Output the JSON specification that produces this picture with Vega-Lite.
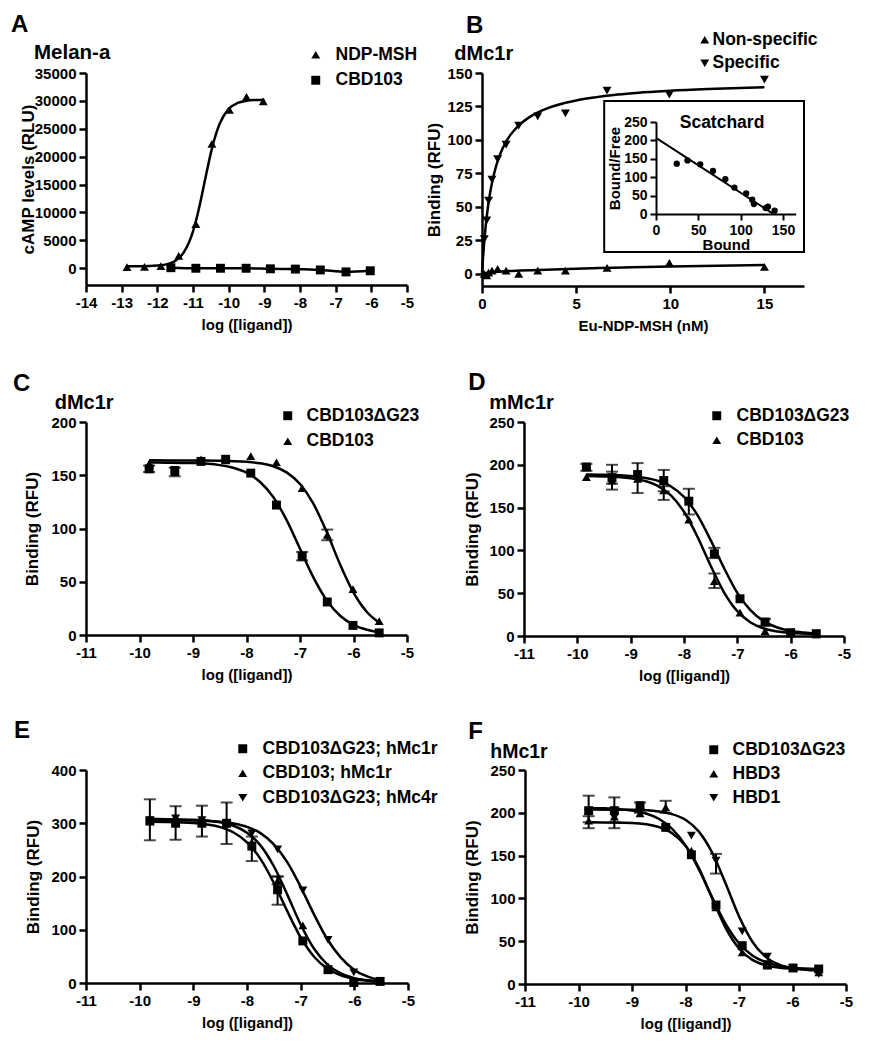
{
"$schema": "https://vega.github.io/schema/vega-lite/v6.json",
"padding": {"left": 10, "top": 12, "right": 2, "bottom": 2},
"background": "white",
"config": {
 "font": "Liberation Sans",
 "view": {"stroke": null},
 "axis": {"domainColor": "black", "domainWidth": 2.5, "tickColor": "black", "tickWidth": 2.5, "tickSize": 7, "labelFont": "Liberation Sans", "labelFontWeight": "bold", "labelFontSize": 15, "labelColor": "black", "labelPadding": 3, "titleFont": "Liberation Sans", "titleFontWeight": "bold", "titleFontSize": 17, "titleColor": "black", "grid": false, "labelFlush": false, "labelOverlap": false, "labelSeparation": 0, "labelExpr": "'' + datum.value"},
 "axisX": {"titleFontSize": 15, "titlePadding": 7},
 "legend": {"labelFont": "Liberation Sans", "labelFontWeight": "bold", "labelFontSize": 17.5, "labelColor": "black", "labelLimit": 400, "symbolFillColor": "black", "symbolStrokeColor": "black", "symbolSize": 80, "padding": 0}
},
"datasets": {
 "A_pts": [
  {"series": "NDP-MSH", "x": -12.85, "y": 200}, {"series": "NDP-MSH", "x": -12.36, "y": 250}, {"series": "NDP-MSH", "x": -11.9, "y": 400}, {"series": "NDP-MSH", "x": -11.4, "y": 2200}, {"series": "NDP-MSH", "x": -10.92, "y": 7900}, {"series": "NDP-MSH", "x": -10.47, "y": 22300}, {"series": "NDP-MSH", "x": -9.98, "y": 28400}, {"series": "NDP-MSH", "x": -9.5, "y": 30700}, {"series": "NDP-MSH", "x": -9.03, "y": 29900},
  {"series": "CBD103", "x": -11.62, "y": 100}, {"series": "CBD103", "x": -10.92, "y": 0}, {"series": "CBD103", "x": -10.23, "y": 0}, {"series": "CBD103", "x": -9.51, "y": 0}, {"series": "CBD103", "x": -8.83, "y": -100}, {"series": "CBD103", "x": -8.13, "y": -150}, {"series": "CBD103", "x": -7.43, "y": -300}, {"series": "CBD103", "x": -6.71, "y": -650}, {"series": "CBD103", "x": -6.03, "y": -450}
 ],
 "A_curve": [
  {"series": "NDP-MSH", "x": -12.85, "y": 354}, {"series": "NDP-MSH", "x": -12.5, "y": 366}, {"series": "NDP-MSH", "x": -12.0, "y": 475}, {"series": "NDP-MSH", "x": -11.75, "y": 700}, {"series": "NDP-MSH", "x": -11.5, "y": 1317}, {"series": "NDP-MSH", "x": -11.25, "y": 2923}, {"series": "NDP-MSH", "x": -11.0, "y": 6619}, {"series": "NDP-MSH", "x": -10.9, "y": 8917}, {"series": "NDP-MSH", "x": -10.8, "y": 11659}, {"series": "NDP-MSH", "x": -10.7, "y": 14684}, {"series": "NDP-MSH", "x": -10.6, "y": 17754}, {"series": "NDP-MSH", "x": -10.5, "y": 20635}, {"series": "NDP-MSH", "x": -10.4, "y": 23122}, {"series": "NDP-MSH", "x": -10.25, "y": 25949}, {"series": "NDP-MSH", "x": -10.0, "y": 28566}, {"series": "NDP-MSH", "x": -9.75, "y": 29629}, {"series": "NDP-MSH", "x": -9.5, "y": 30027}, {"series": "NDP-MSH", "x": -9.25, "y": 30170}, {"series": "NDP-MSH", "x": -9.0, "y": 30222},
  {"series": "CBD103", "x": -11.62, "y": 100}, {"series": "CBD103", "x": -10.92, "y": 0}, {"series": "CBD103", "x": -10.23, "y": 0}, {"series": "CBD103", "x": -9.51, "y": 0}, {"series": "CBD103", "x": -8.83, "y": -100}, {"series": "CBD103", "x": -8.13, "y": -150}, {"series": "CBD103", "x": -7.43, "y": -300}, {"series": "CBD103", "x": -6.71, "y": -650}, {"series": "CBD103", "x": -6.03, "y": -450}
 ],
 "B_pts": [
  {"series": "Specific", "x": 0.12, "y": 26}, {"series": "Specific", "x": 0.25, "y": 40}, {"series": "Specific", "x": 0.35, "y": 54.7}, {"series": "Specific", "x": 0.53, "y": 70.4}, {"series": "Specific", "x": 0.83, "y": 85.8}, {"series": "Specific", "x": 1.28, "y": 96.5}, {"series": "Specific", "x": 1.95, "y": 110.7}, {"series": "Specific", "x": 2.96, "y": 117.7}, {"series": "Specific", "x": 4.43, "y": 119.8}, {"series": "Specific", "x": 6.64, "y": 136.8}, {"series": "Specific", "x": 9.95, "y": 133.8}, {"series": "Specific", "x": 15, "y": 145},
  {"series": "Non-specific", "x": 0.12, "y": 0}, {"series": "Non-specific", "x": 0.25, "y": -1}, {"series": "Non-specific", "x": 0.35, "y": 1}, {"series": "Non-specific", "x": 0.53, "y": 2.5}, {"series": "Non-specific", "x": 0.83, "y": 3.7}, {"series": "Non-specific", "x": 1.28, "y": 2.5}, {"series": "Non-specific", "x": 1.95, "y": 0}, {"series": "Non-specific", "x": 2.96, "y": 2.5}, {"series": "Non-specific", "x": 4.43, "y": 2.5}, {"series": "Non-specific", "x": 6.64, "y": 4.5}, {"series": "Non-specific", "x": 9.95, "y": 8.2}, {"series": "Non-specific", "x": 15, "y": 5.2}
 ],
 "B_curve": [
  {"series": "Specific", "x": 0, "y": 0}, {"series": "Specific", "x": 0.05, "y": 11.2}, {"series": "Specific", "x": 0.1, "y": 20.7}, {"series": "Specific", "x": 0.2, "y": 36.3}, {"series": "Specific", "x": 0.3, "y": 48.3}, {"series": "Specific", "x": 0.4, "y": 58}, {"series": "Specific", "x": 0.5, "y": 65.9}, {"series": "Specific", "x": 0.75, "y": 80.6}, {"series": "Specific", "x": 1, "y": 90.6}, {"series": "Specific", "x": 1.25, "y": 98}, {"series": "Specific", "x": 1.5, "y": 103.6}, {"series": "Specific", "x": 2, "y": 111.5}, {"series": "Specific", "x": 2.5, "y": 116.9}, {"series": "Specific", "x": 3, "y": 120.8}, {"series": "Specific", "x": 4, "y": 126.1}, {"series": "Specific", "x": 5, "y": 129.5}, {"series": "Specific", "x": 6, "y": 131.8}, {"series": "Specific", "x": 7, "y": 133.6}, {"series": "Specific", "x": 8, "y": 134.9}, {"series": "Specific", "x": 9, "y": 135.9}, {"series": "Specific", "x": 10, "y": 136.8}, {"series": "Specific", "x": 12, "y": 138.1}, {"series": "Specific", "x": 15, "y": 139.4},
  {"series": "Non-specific", "x": 0, "y": 0}, {"series": "Non-specific", "x": 0.5, "y": 1.2}, {"series": "Non-specific", "x": 1, "y": 1.8}, {"series": "Non-specific", "x": 2, "y": 2.5}, {"series": "Non-specific", "x": 3, "y": 3.0}, {"series": "Non-specific", "x": 5, "y": 3.9}, {"series": "Non-specific", "x": 7, "y": 4.6}, {"series": "Non-specific", "x": 10, "y": 5.6}, {"series": "Non-specific", "x": 15, "y": 6.6}
 ],
 "B_inset_pts": [
  {"bound": 24.5, "bf": 136.7}, {"bound": 37.2, "bf": 145.7}, {"bound": 52.2, "bf": 134.9}, {"bound": 67.3, "bf": 116.9}, {"bound": 81.9, "bf": 94.4}, {"bound": 92.6, "bf": 71.9}, {"bound": 106.5, "bf": 55.8}, {"bound": 113.6, "bf": 38.7}, {"bound": 115.6, "bf": 27}, {"bound": 129.4, "bf": 16.2}, {"bound": 132.2, "bf": 19.8}, {"bound": 140.1, "bf": 9}
 ],
 "B_inset_line": [{"bound": 0, "bf": 207}, {"bound": 138, "bf": 1}],
 "C_pts": [
  {"series": "CBD103ΔG23", "x": -9.82, "y": 156}, {"series": "CBD103ΔG23", "x": -9.34, "y": 154.5}, {"series": "CBD103ΔG23", "x": -8.85, "y": 163}, {"series": "CBD103ΔG23", "x": -8.39, "y": 165}, {"series": "CBD103ΔG23", "x": -7.92, "y": 152}, {"series": "CBD103ΔG23", "x": -7.44, "y": 122}, {"series": "CBD103ΔG23", "x": -6.96, "y": 74}, {"series": "CBD103ΔG23", "x": -6.49, "y": 31}, {"series": "CBD103ΔG23", "x": -6.01, "y": 9}, {"series": "CBD103ΔG23", "x": -5.52, "y": 2},
  {"series": "CBD103", "x": -9.82, "y": 161}, {"series": "CBD103", "x": -9.34, "y": 153}, {"series": "CBD103", "x": -8.85, "y": 165}, {"series": "CBD103", "x": -8.39, "y": 164}, {"series": "CBD103", "x": -7.92, "y": 168}, {"series": "CBD103", "x": -7.44, "y": 162}, {"series": "CBD103", "x": -6.96, "y": 138}, {"series": "CBD103", "x": -6.49, "y": 94}, {"series": "CBD103", "x": -6.01, "y": 43}, {"series": "CBD103", "x": -5.52, "y": 13}
 ],
 "C_err": [
  {"series": "CBD103ΔG23", "x": -9.82, "lo": 153, "hi": 159}, {"series": "CBD103", "x": -9.34, "lo": 149, "hi": 157}, {"series": "CBD103ΔG23", "x": -6.96, "lo": 70, "hi": 78}, {"series": "CBD103", "x": -6.49, "lo": 89, "hi": 99}
 ],
 "C_curve": [
  {"series": "CBD103ΔG23", "x": -9.82, "y": 161.9}, {"series": "CBD103ΔG23", "x": -9.5, "y": 161.8}, {"series": "CBD103ΔG23", "x": -9, "y": 161.4}, {"series": "CBD103ΔG23", "x": -8.5, "y": 159.5}, {"series": "CBD103ΔG23", "x": -8.25, "y": 157.0}, {"series": "CBD103ΔG23", "x": -8, "y": 152.4}, {"series": "CBD103ΔG23", "x": -7.75, "y": 143.9}, {"series": "CBD103ΔG23", "x": -7.5, "y": 129.5}, {"series": "CBD103ΔG23", "x": -7.25, "y": 107.9}, {"series": "CBD103ΔG23", "x": -7, "y": 81}, {"series": "CBD103ΔG23", "x": -6.75, "y": 54.1}, {"series": "CBD103ΔG23", "x": -6.5, "y": 32.5}, {"series": "CBD103ΔG23", "x": -6.25, "y": 18.1}, {"series": "CBD103ΔG23", "x": -6, "y": 9.6}, {"series": "CBD103ΔG23", "x": -5.75, "y": 5.0}, {"series": "CBD103ΔG23", "x": -5.52, "y": 2.7},
  {"series": "CBD103", "x": -9.82, "y": 164}, {"series": "CBD103", "x": -9, "y": 163.9}, {"series": "CBD103", "x": -8.5, "y": 163.7}, {"series": "CBD103", "x": -8, "y": 162.7}, {"series": "CBD103", "x": -7.75, "y": 161.3}, {"series": "CBD103", "x": -7.5, "y": 158.5}, {"series": "CBD103", "x": -7.25, "y": 152.7}, {"series": "CBD103", "x": -7, "y": 141.8}, {"series": "CBD103", "x": -6.75, "y": 123.3}, {"series": "CBD103", "x": -6.5, "y": 96.6}, {"series": "CBD103", "x": -6.25, "y": 66.2}, {"series": "CBD103", "x": -6, "y": 39.8}, {"series": "CBD103", "x": -5.75, "y": 21.6}, {"series": "CBD103", "x": -5.52, "y": 11.6}
 ],
 "D_pts": [
  {"series": "CBD103ΔG23", "x": -9.83, "y": 197.5}, {"series": "CBD103ΔG23", "x": -9.35, "y": 185}, {"series": "CBD103ΔG23", "x": -8.87, "y": 188.6}, {"series": "CBD103ΔG23", "x": -8.38, "y": 181.6}, {"series": "CBD103ΔG23", "x": -7.91, "y": 157.5}, {"series": "CBD103ΔG23", "x": -7.43, "y": 96}, {"series": "CBD103ΔG23", "x": -6.95, "y": 43.5}, {"series": "CBD103ΔG23", "x": -6.48, "y": 16.3}, {"series": "CBD103ΔG23", "x": -6.0, "y": 3.9}, {"series": "CBD103ΔG23", "x": -5.52, "y": 2.7},
  {"series": "CBD103", "x": -9.83, "y": 185.5}, {"series": "CBD103", "x": -9.35, "y": 181.6}, {"series": "CBD103", "x": -8.87, "y": 183.5}, {"series": "CBD103", "x": -8.38, "y": 170}, {"series": "CBD103", "x": -7.91, "y": 136}, {"series": "CBD103", "x": -7.43, "y": 64}, {"series": "CBD103", "x": -6.95, "y": 27.2}, {"series": "CBD103", "x": -6.48, "y": 5.8}, {"series": "CBD103", "x": -6.0, "y": 2.7}, {"series": "CBD103", "x": -5.52, "y": 2}
 ],
 "D_err": [
  {"series": "CBD103ΔG23", "x": -9.83, "lo": 193, "hi": 201}, {"series": "CBD103ΔG23", "x": -9.35, "lo": 178, "hi": 192}, {"series": "CBD103", "x": -9.35, "lo": 171, "hi": 200}, {"series": "CBD103ΔG23", "x": -8.87, "lo": 167, "hi": 202}, {"series": "CBD103ΔG23", "x": -8.38, "lo": 169, "hi": 194}, {"series": "CBD103", "x": -8.38, "lo": 159, "hi": 175}, {"series": "CBD103ΔG23", "x": -7.91, "lo": 142, "hi": 172}, {"series": "CBD103ΔG23", "x": -7.43, "lo": 91, "hi": 103}, {"series": "CBD103", "x": -7.43, "lo": 56, "hi": 73}, {"series": "CBD103ΔG23", "x": -6.48, "lo": 12, "hi": 20}
 ],
 "D_curve": [
  {"series": "CBD103ΔG23", "x": -9.83, "y": 188.8}, {"series": "CBD103ΔG23", "x": -9.5, "y": 188.5}, {"series": "CBD103ΔG23", "x": -9, "y": 186.9}, {"series": "CBD103ΔG23", "x": -8.5, "y": 181.5}, {"series": "CBD103ΔG23", "x": -8.25, "y": 175}, {"series": "CBD103ΔG23", "x": -8, "y": 162.5}, {"series": "CBD103ΔG23", "x": -7.75, "y": 141.5}, {"series": "CBD103ΔG23", "x": -7.5, "y": 112}, {"series": "CBD103ΔG23", "x": -7.25, "y": 79.5}, {"series": "CBD103ΔG23", "x": -7, "y": 50.4}, {"series": "CBD103ΔG23", "x": -6.75, "y": 29.9}, {"series": "CBD103ΔG23", "x": -6.5, "y": 17.1}, {"series": "CBD103ΔG23", "x": -6.25, "y": 9.9}, {"series": "CBD103ΔG23", "x": -6, "y": 6.0}, {"series": "CBD103ΔG23", "x": -5.75, "y": 4.1}, {"series": "CBD103ΔG23", "x": -5.52, "y": 3.1},
  {"series": "CBD103", "x": -9.83, "y": 186.8}, {"series": "CBD103", "x": -9.5, "y": 186.4}, {"series": "CBD103", "x": -9, "y": 184.3}, {"series": "CBD103", "x": -8.5, "y": 175.6}, {"series": "CBD103", "x": -8.25, "y": 164.5}, {"series": "CBD103", "x": -8, "y": 145.1}, {"series": "CBD103", "x": -7.75, "y": 116.3}, {"series": "CBD103", "x": -7.5, "y": 82.1}, {"series": "CBD103", "x": -7.25, "y": 51.1}, {"series": "CBD103", "x": -7, "y": 29.0}, {"series": "CBD103", "x": -6.75, "y": 15.8}, {"series": "CBD103", "x": -6.5, "y": 8.8}, {"series": "CBD103", "x": -6.25, "y": 5.3}, {"series": "CBD103", "x": -6, "y": 3.6}, {"series": "CBD103", "x": -5.52, "y": 2.4}
 ],
 "E_pts": [
  {"series": "CBD103ΔG23; hMc1r", "x": -9.81, "y": 304}, {"series": "CBD103ΔG23; hMc1r", "x": -9.33, "y": 300}, {"series": "CBD103ΔG23; hMc1r", "x": -8.84, "y": 300}, {"series": "CBD103ΔG23; hMc1r", "x": -8.38, "y": 300}, {"series": "CBD103ΔG23; hMc1r", "x": -7.91, "y": 257}, {"series": "CBD103ΔG23; hMc1r", "x": -7.43, "y": 175}, {"series": "CBD103ΔG23; hMc1r", "x": -6.96, "y": 79}, {"series": "CBD103ΔG23; hMc1r", "x": -6.49, "y": 25}, {"series": "CBD103ΔG23; hMc1r", "x": -6.01, "y": 1}, {"series": "CBD103ΔG23; hMc1r", "x": -5.52, "y": 3},
  {"series": "CBD103; hMc1r", "x": -9.81, "y": 307}, {"series": "CBD103; hMc1r", "x": -9.33, "y": 312}, {"series": "CBD103; hMc1r", "x": -8.84, "y": 303}, {"series": "CBD103; hMc1r", "x": -8.38, "y": 300}, {"series": "CBD103; hMc1r", "x": -7.91, "y": 264}, {"series": "CBD103; hMc1r", "x": -7.43, "y": 192}, {"series": "CBD103; hMc1r", "x": -6.96, "y": 108}, {"series": "CBD103; hMc1r", "x": -6.49, "y": 31}, {"series": "CBD103; hMc1r", "x": -6.01, "y": 1}, {"series": "CBD103; hMc1r", "x": -5.52, "y": 3},
  {"series": "CBD103ΔG23; hMc4r", "x": -9.81, "y": 306}, {"series": "CBD103ΔG23; hMc4r", "x": -9.33, "y": 309}, {"series": "CBD103ΔG23; hMc4r", "x": -8.84, "y": 306}, {"series": "CBD103ΔG23; hMc4r", "x": -8.38, "y": 300}, {"series": "CBD103ΔG23; hMc4r", "x": -7.91, "y": 281}, {"series": "CBD103ΔG23; hMc4r", "x": -7.43, "y": 251}, {"series": "CBD103ΔG23; hMc4r", "x": -6.96, "y": 174}, {"series": "CBD103ΔG23; hMc4r", "x": -6.49, "y": 81}, {"series": "CBD103ΔG23; hMc4r", "x": -6.01, "y": 20}, {"series": "CBD103ΔG23; hMc4r", "x": -5.52, "y": 3}
 ],
 "E_err": [
  {"series": "CBD103ΔG23; hMc1r", "x": -9.81, "lo": 268, "hi": 345}, {"series": "CBD103ΔG23; hMc1r", "x": -9.33, "lo": 269, "hi": 332}, {"series": "CBD103ΔG23; hMc1r", "x": -8.84, "lo": 275, "hi": 333}, {"series": "CBD103ΔG23; hMc1r", "x": -8.38, "lo": 261, "hi": 339}, {"series": "CBD103ΔG23; hMc1r", "x": -7.91, "lo": 229, "hi": 275}, {"series": "CBD103ΔG23; hMc1r", "x": -7.43, "lo": 147, "hi": 200}, {"series": "CBD103; hMc1r", "x": -7.43, "lo": 185, "hi": 200}
 ],
 "E_curve": [
  {"series": "CBD103ΔG23; hMc1r", "x": -9.81, "y": 302.7}, {"series": "CBD103ΔG23; hMc1r", "x": -9.5, "y": 302.4}, {"series": "CBD103ΔG23; hMc1r", "x": -9, "y": 300.5}, {"series": "CBD103ΔG23; hMc1r", "x": -8.5, "y": 292.7}, {"series": "CBD103ΔG23; hMc1r", "x": -8.25, "y": 282.6}, {"series": "CBD103ΔG23; hMc1r", "x": -8, "y": 264.2}, {"series": "CBD103ΔG23; hMc1r", "x": -7.75, "y": 233.1}, {"series": "CBD103ΔG23; hMc1r", "x": -7.5, "y": 188.0}, {"series": "CBD103ΔG23; hMc1r", "x": -7.25, "y": 134.9}, {"series": "CBD103ΔG23; hMc1r", "x": -7, "y": 85.7}, {"series": "CBD103ΔG23; hMc1r", "x": -6.75, "y": 49.4}, {"series": "CBD103ΔG23; hMc1r", "x": -6.5, "y": 26.8}, {"series": "CBD103ΔG23; hMc1r", "x": -6.25, "y": 14.2}, {"series": "CBD103ΔG23; hMc1r", "x": -6, "y": 7.6}, {"series": "CBD103ΔG23; hMc1r", "x": -5.75, "y": 4.3}, {"series": "CBD103ΔG23; hMc1r", "x": -5.52, "y": 2.7},
  {"series": "CBD103; hMc1r", "x": -9.81, "y": 307.9}, {"series": "CBD103; hMc1r", "x": -9.5, "y": 307.7}, {"series": "CBD103; hMc1r", "x": -9, "y": 306.6}, {"series": "CBD103; hMc1r", "x": -8.5, "y": 301.9}, {"series": "CBD103; hMc1r", "x": -8.25, "y": 295.3}, {"series": "CBD103; hMc1r", "x": -8, "y": 282.3}, {"series": "CBD103; hMc1r", "x": -7.75, "y": 258.4}, {"series": "CBD103; hMc1r", "x": -7.5, "y": 219.2}, {"series": "CBD103; hMc1r", "x": -7.25, "y": 166.0}, {"series": "CBD103; hMc1r", "x": -7, "y": 109.9}, {"series": "CBD103; hMc1r", "x": -6.75, "y": 64.3}, {"series": "CBD103; hMc1r", "x": -6.5, "y": 34.6}, {"series": "CBD103; hMc1r", "x": -6.25, "y": 17.9}, {"series": "CBD103; hMc1r", "x": -6, "y": 9.2}, {"series": "CBD103; hMc1r", "x": -5.75, "y": 5.0}, {"series": "CBD103; hMc1r", "x": -5.52, "y": 3.0},
  {"series": "CBD103ΔG23; hMc4r", "x": -9.81, "y": 305.9}, {"series": "CBD103ΔG23; hMc4r", "x": -9.5, "y": 305.8}, {"series": "CBD103ΔG23; hMc4r", "x": -9, "y": 305.2}, {"series": "CBD103ΔG23; hMc4r", "x": -8.5, "y": 302.7}, {"series": "CBD103ΔG23; hMc4r", "x": -8.25, "y": 299.4}, {"series": "CBD103ΔG23; hMc4r", "x": -8, "y": 293.1}, {"series": "CBD103ΔG23; hMc4r", "x": -7.75, "y": 281.4}, {"series": "CBD103ΔG23; hMc4r", "x": -7.5, "y": 260.5}, {"series": "CBD103ΔG23; hMc4r", "x": -7.25, "y": 226.9}, {"series": "CBD103ΔG23; hMc4r", "x": -7, "y": 180.6}, {"series": "CBD103ΔG23; hMc4r", "x": -6.75, "y": 128.5}, {"series": "CBD103ΔG23; hMc4r", "x": -6.5, "y": 81.7}, {"series": "CBD103ΔG23; hMc4r", "x": -6.25, "y": 47.6}, {"series": "CBD103ΔG23; hMc4r", "x": -6, "y": 24.5}, {"series": "CBD103ΔG23; hMc4r", "x": -5.75, "y": 12.0}, {"series": "CBD103ΔG23; hMc4r", "x": -5.52, "y": 5.5}
 ],
 "F_pts": [
  {"series": "CBD103ΔG23", "x": -9.81, "y": 202.5}, {"series": "CBD103ΔG23", "x": -9.33, "y": 202.5}, {"series": "CBD103ΔG23", "x": -8.85, "y": 208.3}, {"series": "CBD103ΔG23", "x": -8.37, "y": 183}, {"series": "CBD103ΔG23", "x": -7.89, "y": 151}, {"series": "CBD103ΔG23", "x": -7.43, "y": 92.3}, {"series": "CBD103ΔG23", "x": -6.94, "y": 44.8}, {"series": "CBD103ΔG23", "x": -6.47, "y": 22.6}, {"series": "CBD103ΔG23", "x": -5.99, "y": 18.7}, {"series": "CBD103ΔG23", "x": -5.51, "y": 17.5},
  {"series": "HBD3", "x": -9.81, "y": 190.8}, {"series": "HBD3", "x": -9.33, "y": 195.5}, {"series": "HBD3", "x": -8.85, "y": 199.4}, {"series": "HBD3", "x": -8.37, "y": 206.4}, {"series": "HBD3", "x": -7.89, "y": 155.8}, {"series": "HBD3", "x": -7.43, "y": 89.6}, {"series": "HBD3", "x": -6.94, "y": 37}, {"series": "HBD3", "x": -6.47, "y": 21.4}, {"series": "HBD3", "x": -5.99, "y": 19.5}, {"series": "HBD3", "x": -5.51, "y": 13.6},
  {"series": "HBD1", "x": -9.81, "y": 200.5}, {"series": "HBD1", "x": -9.33, "y": 194.7}, {"series": "HBD1", "x": -8.85, "y": 200.5}, {"series": "HBD1", "x": -8.37, "y": 182.2}, {"series": "HBD1", "x": -7.89, "y": 173.3}, {"series": "HBD1", "x": -7.43, "y": 144.1}, {"series": "HBD1", "x": -6.94, "y": 61.5}, {"series": "HBD1", "x": -6.47, "y": 32}, {"series": "HBD1", "x": -5.99, "y": 18.7}, {"series": "HBD1", "x": -5.51, "y": 11.7}
 ],
 "F_err": [
  {"series": "CBD103ΔG23", "x": -9.81, "lo": 189, "hi": 220}, {"series": "CBD103ΔG23", "x": -9.33, "lo": 189, "hi": 218}, {"series": "HBD3", "x": -9.81, "lo": 182, "hi": 196}, {"series": "HBD3", "x": -8.37, "lo": 200, "hi": 214}, {"series": "HBD1", "x": -9.33, "lo": 182, "hi": 205}, {"series": "HBD1", "x": -7.43, "lo": 129, "hi": 152}, {"series": "CBD103ΔG23", "x": -8.85, "lo": 200, "hi": 212}
 ],
 "F_curve": [
  {"series": "CBD103ΔG23", "x": -9.81, "y": 205.7}, {"series": "CBD103ΔG23", "x": -9.5, "y": 205.2}, {"series": "CBD103ΔG23", "x": -9, "y": 202.7}, {"series": "CBD103ΔG23", "x": -8.5, "y": 193.0}, {"series": "CBD103ΔG23", "x": -8.25, "y": 181.3}, {"series": "CBD103ΔG23", "x": -8, "y": 161.9}, {"series": "CBD103ΔG23", "x": -7.75, "y": 133.8}, {"series": "CBD103ΔG23", "x": -7.5, "y": 100.9}, {"series": "CBD103ΔG23", "x": -7.25, "y": 70.3}, {"series": "CBD103ΔG23", "x": -7, "y": 47.6}, {"series": "CBD103ΔG23", "x": -6.75, "y": 33.4}, {"series": "CBD103ΔG23", "x": -6.5, "y": 25.5}, {"series": "CBD103ΔG23", "x": -6.25, "y": 21.3}, {"series": "CBD103ΔG23", "x": -6, "y": 19.1}, {"series": "CBD103ΔG23", "x": -5.51, "y": 17.5},
  {"series": "HBD3", "x": -9.81, "y": 189.0}, {"series": "HBD3", "x": -9, "y": 188.0}, {"series": "HBD3", "x": -8.5, "y": 183.4}, {"series": "HBD3", "x": -8.25, "y": 176.2}, {"series": "HBD3", "x": -8, "y": 161.5}, {"series": "HBD3", "x": -7.75, "y": 135.5}, {"series": "HBD3", "x": -7.5, "y": 100.0}, {"series": "HBD3", "x": -7.25, "y": 65.6}, {"series": "HBD3", "x": -7, "y": 41.5}, {"series": "HBD3", "x": -6.75, "y": 28.2}, {"series": "HBD3", "x": -6.5, "y": 21.9}, {"series": "HBD3", "x": -6.25, "y": 19.1}, {"series": "HBD3", "x": -6, "y": 17.9}, {"series": "HBD3", "x": -5.51, "y": 17.2},
  {"series": "HBD1", "x": -9.81, "y": 204}, {"series": "HBD1", "x": -9, "y": 203.5}, {"series": "HBD1", "x": -8.5, "y": 201.6}, {"series": "HBD1", "x": -8.25, "y": 198.5}, {"series": "HBD1", "x": -8, "y": 191.8}, {"series": "HBD1", "x": -7.75, "y": 178.0}, {"series": "HBD1", "x": -7.5, "y": 153.3}, {"series": "HBD1", "x": -7.25, "y": 117.4}, {"series": "HBD1", "x": -7, "y": 79.1}, {"series": "HBD1", "x": -6.75, "y": 49.4}, {"series": "HBD1", "x": -6.5, "y": 31.7}, {"series": "HBD1", "x": -6.25, "y": 22.6}, {"series": "HBD1", "x": -6, "y": 18.4}, {"series": "HBD1", "x": -5.51, "y": 15.7}
 ]
},
"vconcat": [
 {
  "hconcat": [
   {
    "width": 321, "height": 212,
    "layer": [
     {"data": {"name": "A_curve"}, "mark": {"type": "line", "color": "black", "strokeWidth": 2.5, "interpolate": "monotone"},
      "encoding": {
       "x": {"field": "x", "type": "quantitative", "title": "log ([ligand])", "scale": {"domain": [-14, -5], "nice": false, "zero": false}, "axis": {"values": [-14, -13, -12, -11, -10, -9, -8, -7, -6, -5], "tickCount": 10, "labelOverlap": false}},
       "y": {"field": "y", "type": "quantitative", "title": "cAMP levels (RLU)", "scale": {"domain": [-3000, 35000], "nice": false, "zero": false}, "axis": {"values": [0, 5000, 10000, 15000, 20000, 25000, 30000, 35000], "tickCount": 8, "labelOverlap": false, "titlePadding": -3}},
       "detail": {"field": "series", "type": "nominal"}}},
     {"data": {"name": "A_pts"}, "mark": {"type": "point", "filled": true, "color": "black", "size": 80, "opacity": 1},
      "encoding": {
       "x": {"field": "x", "type": "quantitative", "title": "log ([ligand])", "axis": {"values": [-14, -13, -12, -11, -10, -9, -8, -7, -6, -5], "tickCount": 10, "labelOverlap": false}},
       "y": {"field": "y", "type": "quantitative", "title": "cAMP levels (RLU)", "axis": {"values": [0, 5000, 10000, 15000, 20000, 25000, 30000, 35000], "tickCount": 8, "labelOverlap": false, "titlePadding": -3}},
       "shape": {"field": "series", "type": "nominal", "scale": {"domain": ["NDP-MSH", "CBD103"], "range": ["triangle-up", "square"]}, "legend": {"title": null, "orient": "none", "legendX": 221, "legendY": -27, "labelOffset": 11, "rowPadding": 6.5}}}},
     {"data": {"values": [{}]}, "mark": {"type": "text", "text": "A", "fontSize": 24, "fontWeight": "bold", "font": "Liberation Sans", "align": "left", "baseline": "alphabetic", "color": "black"},
      "encoding": {"x": {"datum": -16.103, "type": "quantitative"}, "y": {"datum": 42403, "type": "quantitative"}}},
     {"data": {"values": [{}]}, "mark": {"type": "text", "text": "Melan-a", "fontSize": 20.5, "fontWeight": "bold", "font": "Liberation Sans", "align": "left", "baseline": "alphabetic", "color": "black"},
      "encoding": {"x": {"datum": -15.458, "type": "quantitative"}, "y": {"datum": 37456, "type": "quantitative"}}}
    ]
   },
   {
    "width": 322, "height": 213,
    "resolve": {"scale": {"x": "independent", "y": "independent"}},
    "layer": [
     {"layer": [
      {"data": {"name": "B_curve"}, "mark": {"type": "line", "color": "black", "strokeWidth": 2.5, "interpolate": "monotone"},
       "encoding": {
        "x": {"field": "x", "type": "quantitative", "title": "Eu-NDP-MSH (nM)", "scale": {"domain": [0, 17.1], "nice": false, "zero": false}, "axis": {"values": [0, 5, 10, 15], "orient": "bottom", "labelOverlap": false}},
        "y": {"field": "y", "type": "quantitative", "title": "Binding (RFU)", "scale": {"domain": [-9, 150], "nice": false, "zero": false}, "axis": {"values": [0, 25, 50, 75, 100, 125, 150], "tickCount": 7, "labelOverlap": false, "titlePadding": 3, "orient": "left"}},
        "detail": {"field": "series", "type": "nominal"}}},
      {"data": {"name": "B_pts"}, "mark": {"type": "point", "filled": true, "color": "black", "size": 80, "opacity": 1},
       "encoding": {
        "x": {"field": "x", "type": "quantitative", "title": "Eu-NDP-MSH (nM)", "axis": {"values": [0, 5, 10, 15], "orient": "bottom", "labelOverlap": false}},
        "y": {"field": "y", "type": "quantitative", "title": "Binding (RFU)", "axis": {"values": [0, 25, 50, 75, 100, 125, 150], "tickCount": 7, "labelOverlap": false, "titlePadding": 3, "orient": "left"}},
        "shape": {"field": "series", "type": "nominal", "scale": {"domain": ["Non-specific", "Specific"], "range": ["triangle-up", "triangle-down"]}, "legend": {"title": null, "orient": "none", "legendX": 214, "legendY": -42, "labelOffset": -1, "rowPadding": 4.5}}}},
      {"data": {"values": [{}]}, "mark": {"type": "rect", "fill": "white", "stroke": "black", "strokeWidth": 2},
       "encoding": {"x": {"datum": 6.49, "type": "quantitative"}, "x2": {"datum": 17.1}, "y": {"datum": 129.1, "type": "quantitative"}, "y2": {"datum": 16.4}}},
      {"data": {"values": [{}]}, "mark": {"type": "text", "text": "B", "fontSize": 24, "fontWeight": "bold", "font": "Liberation Sans", "align": "left", "baseline": "alphabetic", "color": "black"},
       "encoding": {"x": {"datum": -0.85, "type": "quantitative"}, "y": {"datum": 180.1, "type": "quantitative"}}},
      {"data": {"values": [{}]}, "mark": {"type": "text", "text": "dMc1r", "fontSize": 20, "fontWeight": "bold", "font": "Liberation Sans", "align": "left", "baseline": "alphabetic", "color": "black"},
       "encoding": {"x": {"datum": -1.471, "type": "quantitative"}, "y": {"datum": 159.5, "type": "quantitative"}}}
     ]},
     {"layer": [
      {"data": {"name": "B_inset_line"}, "mark": {"type": "line", "color": "black", "strokeWidth": 2},
       "encoding": {
        "x": {"field": "bound", "type": "quantitative", "title": "Bound", "scale": {"domain": [0, 165], "range": [174, 313.7], "nice": false, "zero": false}, "axis": {"orient": "bottom", "offset": -72, "zindex": 2, "values": [0, 50, 100, 150], "tickSize": 6, "domainWidth": 2, "tickWidth": 2, "labelFontSize": 14, "titleFontSize": 15, "titlePadding": 0}},
        "y": {"field": "bf", "type": "quantitative", "title": "Bound/Free", "scale": {"domain": [0, 250], "range": [141, 49], "nice": false, "zero": false}, "axis": {"orient": "left", "offset": -174, "zindex": 2, "values": [0, 50, 100, 150, 200, 250], "tickSize": 6, "domainWidth": 2, "tickWidth": 2, "labelFontSize": 14, "titleFontSize": 15, "titlePadding": 1}}}},
      {"data": {"name": "B_inset_pts"}, "mark": {"type": "circle", "color": "black", "size": 40, "opacity": 1},
       "encoding": {"x": {"field": "bound", "type": "quantitative", "title": "Bound"}, "y": {"field": "bf", "type": "quantitative", "title": "Bound/Free"}}},
      {"data": {"values": [{}]}, "mark": {"type": "text", "text": "Scatchard", "fontSize": 17.5, "fontWeight": "bold", "font": "Liberation Sans", "align": "center", "baseline": "middle", "color": "black"},
       "encoding": {"x": {"datum": 78, "type": "quantitative"}, "y": {"datum": 247, "type": "quantitative"}}}
     ]}
    ]
   }
  ],
  "spacing": 75,
  "bounds": "flush",
  "resolve": {"scale": {"shape": "independent"}, "legend": {"shape": "independent"}}
 },
 {
  "vconcat": [
   {
    "hconcat": [
     {
      "width": 321, "height": 213,
      "layer": [
       {"data": {"name": "C_curve"}, "mark": {"type": "line", "color": "black", "strokeWidth": 2.5, "interpolate": "monotone"},
        "encoding": {
         "x": {"field": "x", "type": "quantitative", "title": "log ([ligand])", "scale": {"domain": [-11, -5], "nice": false, "zero": false}, "axis": {"values": [-11, -10, -9, -8, -7, -6, -5]}},
         "y": {"field": "y", "type": "quantitative", "title": "Binding (RFU)", "scale": {"domain": [0, 200], "nice": false, "zero": false}, "axis": {"values": [0, 50, 100, 150, 200], "titlePadding": 9}},
         "detail": {"field": "series", "type": "nominal"}}},
       {"data": {"name": "C_err"}, "mark": {"type": "errorbar", "ticks": true, "size": 12, "thickness": 2, "color": "black"},
        "encoding": {"x": {"field": "x", "type": "quantitative", "title": "log ([ligand])"}, "y": {"field": "lo", "type": "quantitative", "title": "Binding (RFU)"}, "y2": {"field": "hi"}}},
       {"data": {"name": "C_pts"}, "mark": {"type": "point", "filled": true, "color": "black", "size": 80, "opacity": 1},
        "encoding": {
         "x": {"field": "x", "type": "quantitative", "title": "log ([ligand])"},
         "y": {"field": "y", "type": "quantitative", "title": "Binding (RFU)"},
         "shape": {"field": "series", "type": "nominal", "scale": {"domain": ["CBD103ΔG23", "CBD103"], "range": ["square", "triangle-up"]}, "legend": {"title": null, "orient": "none", "legendX": 193, "legendY": -15, "labelOffset": 10, "rowPadding": 6.5}}}},
       {"data": {"values": [{}]}, "mark": {"type": "text", "text": "C", "fontSize": 24, "fontWeight": "bold", "font": "Liberation Sans", "align": "left", "baseline": "alphabetic", "color": "black"},
        "encoding": {"x": {"datum": -12.364, "type": "quantitative"}, "y": {"datum": 229.4, "type": "quantitative"}}},
       {"data": {"values": [{}]}, "mark": {"type": "text", "text": "dMc1r", "fontSize": 20, "fontWeight": "bold", "font": "Liberation Sans", "align": "left", "baseline": "alphabetic", "color": "black"},
        "encoding": {"x": {"datum": -11.585, "type": "quantitative"}, "y": {"datum": 212.2, "type": "quantitative"}}}
      ]
     },
     {
      "width": 320, "height": 214,
      "layer": [
       {"data": {"name": "D_curve"}, "mark": {"type": "line", "color": "black", "strokeWidth": 2.5, "interpolate": "monotone"},
        "encoding": {
         "x": {"field": "x", "type": "quantitative", "title": "log ([ligand])", "scale": {"domain": [-11, -5], "nice": false, "zero": false}, "axis": {"values": [-11, -10, -9, -8, -7, -6, -5]}},
         "y": {"field": "y", "type": "quantitative", "title": "Binding (RFU)", "scale": {"domain": [0, 250], "nice": false, "zero": false}, "axis": {"values": [0, 50, 100, 150, 200, 250], "titlePadding": 7}},
         "detail": {"field": "series", "type": "nominal"}}},
       {"data": {"name": "D_err"}, "mark": {"type": "errorbar", "ticks": true, "size": 12, "thickness": 2, "color": "black"},
        "encoding": {"x": {"field": "x", "type": "quantitative", "title": "log ([ligand])"}, "y": {"field": "lo", "type": "quantitative", "title": "Binding (RFU)"}, "y2": {"field": "hi"}}},
       {"data": {"name": "D_pts"}, "mark": {"type": "point", "filled": true, "color": "black", "size": 80, "opacity": 1},
        "encoding": {
         "x": {"field": "x", "type": "quantitative", "title": "log ([ligand])"},
         "y": {"field": "y", "type": "quantitative", "title": "Binding (RFU)"},
         "shape": {"field": "series", "type": "nominal", "scale": {"domain": ["CBD103ΔG23", "CBD103"], "range": ["square", "triangle-up"]}, "legend": {"title": null, "orient": "none", "legendX": 184, "legendY": -15, "labelOffset": 11, "rowPadding": 5.5}}}},
       {"data": {"values": [{}]}, "mark": {"type": "text", "text": "D", "fontSize": 24, "fontWeight": "bold", "font": "Liberation Sans", "align": "left", "baseline": "alphabetic", "color": "black"},
        "encoding": {"x": {"datum": -12.044, "type": "quantitative"}, "y": {"datum": 287.7, "type": "quantitative"}}},
       {"data": {"values": [{}]}, "mark": {"type": "text", "text": "mMc1r", "fontSize": 20, "fontWeight": "bold", "font": "Liberation Sans", "align": "left", "baseline": "alphabetic", "color": "black"},
        "encoding": {"x": {"datum": -11.65, "type": "quantitative"}, "y": {"datum": 265.5, "type": "quantitative"}}}
      ]
     }
    ],
    "spacing": 117,
    "bounds": "flush",
    "resolve": {"scale": {"shape": "independent"}, "legend": {"shape": "independent"}}
   },
   {
    "hconcat": [
     {
      "width": 322, "height": 213,
      "layer": [
       {"data": {"name": "E_curve"}, "mark": {"type": "line", "color": "black", "strokeWidth": 2.5, "interpolate": "monotone"},
        "encoding": {
         "x": {"field": "x", "type": "quantitative", "title": "log ([ligand])", "scale": {"domain": [-11, -5], "nice": false, "zero": false}, "axis": {"values": [-11, -10, -9, -8, -7, -6, -5]}},
         "y": {"field": "y", "type": "quantitative", "title": "Binding (RFU)", "scale": {"domain": [0, 400], "nice": false, "zero": false}, "axis": {"values": [0, 100, 200, 300, 400], "titlePadding": 8}},
         "detail": {"field": "series", "type": "nominal"}}},
       {"data": {"name": "E_err"}, "mark": {"type": "errorbar", "ticks": true, "size": 12, "thickness": 2, "color": "black"},
        "encoding": {"x": {"field": "x", "type": "quantitative", "title": "log ([ligand])"}, "y": {"field": "lo", "type": "quantitative", "title": "Binding (RFU)"}, "y2": {"field": "hi"}}},
       {"data": {"name": "E_pts"}, "mark": {"type": "point", "filled": true, "color": "black", "size": 80, "opacity": 1},
        "encoding": {
         "x": {"field": "x", "type": "quantitative", "title": "log ([ligand])"},
         "y": {"field": "y", "type": "quantitative", "title": "Binding (RFU)"},
         "shape": {"field": "series", "type": "nominal", "scale": {"domain": ["CBD103ΔG23; hMc1r", "CBD103; hMc1r", "CBD103ΔG23; hMc4r"], "range": ["square", "triangle-up", "triangle-down"]}, "legend": {"title": null, "orient": "none", "legendX": 148, "legendY": -30, "labelOffset": 11, "rowPadding": 5.5}}}},
       {"data": {"values": [{}]}, "mark": {"type": "text", "text": "E", "fontSize": 24, "fontWeight": "bold", "font": "Liberation Sans", "align": "left", "baseline": "alphabetic", "color": "black"},
        "encoding": {"x": {"datum": -12.34, "type": "quantitative"}, "y": {"datum": 460.1, "type": "quantitative"}}}
      ]
     },
     {
      "width": 321, "height": 214,
      "layer": [
       {"data": {"name": "F_curve"}, "mark": {"type": "line", "color": "black", "strokeWidth": 2.5, "interpolate": "monotone"},
        "encoding": {
         "x": {"field": "x", "type": "quantitative", "title": "log ([ligand])", "scale": {"domain": [-11, -5], "nice": false, "zero": false}, "axis": {"values": [-11, -10, -9, -8, -7, -6, -5]}},
         "y": {"field": "y", "type": "quantitative", "title": "Binding (RFU)", "scale": {"domain": [0, 250], "nice": false, "zero": false}, "axis": {"values": [0, 50, 100, 150, 200, 250], "titlePadding": 8}},
         "detail": {"field": "series", "type": "nominal"}}},
       {"data": {"name": "F_err"}, "mark": {"type": "errorbar", "ticks": true, "size": 12, "thickness": 2, "color": "black"},
        "encoding": {"x": {"field": "x", "type": "quantitative", "title": "log ([ligand])"}, "y": {"field": "lo", "type": "quantitative", "title": "Binding (RFU)"}, "y2": {"field": "hi"}}},
       {"data": {"name": "F_pts"}, "mark": {"type": "point", "filled": true, "color": "black", "size": 80, "opacity": 1},
        "encoding": {
         "x": {"field": "x", "type": "quantitative", "title": "log ([ligand])"},
         "y": {"field": "y", "type": "quantitative", "title": "Binding (RFU)"},
         "shape": {"field": "series", "type": "nominal", "scale": {"domain": ["CBD103ΔG23", "HBD3", "HBD1"], "range": ["square", "triangle-up", "triangle-down"]}, "legend": {"title": null, "orient": "none", "legendX": 180, "legendY": -29, "labelOffset": 10, "rowPadding": 5}}}},
       {"data": {"values": [{}]}, "mark": {"type": "text", "text": "F", "fontSize": 24, "fontWeight": "bold", "font": "Liberation Sans", "align": "left", "baseline": "alphabetic", "color": "black"},
        "encoding": {"x": {"datum": -12.06, "type": "quantitative"}, "y": {"datum": 286.2, "type": "quantitative"}}},
       {"data": {"values": [{}]}, "mark": {"type": "text", "text": "hMc1r", "fontSize": 19.5, "fontWeight": "bold", "font": "Liberation Sans", "align": "left", "baseline": "alphabetic", "color": "black"},
        "encoding": {"x": {"datum": -11.649, "type": "quantitative"}, "y": {"datum": 263.5, "type": "quantitative"}}}
      ]
     }
    ],
    "spacing": 117,
    "bounds": "flush",
    "resolve": {"scale": {"shape": "independent"}, "legend": {"shape": "independent"}}
   }
  ],
  "spacing": 35,
  "resolve": {"scale": {"shape": "independent"}, "legend": {"shape": "independent"}}
 }
],
"spacing": 37,
"resolve": {"scale": {"shape": "independent"}, "legend": {"shape": "independent"}}
}
